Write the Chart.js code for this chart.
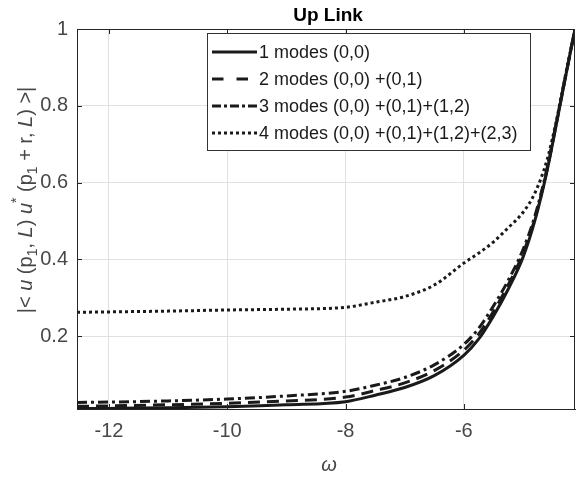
<!DOCTYPE html>
<html>
<head>
<meta charset="utf-8">
<script src="https://cdn.jsdelivr.net/npm/chart.js@4.4.1/dist/chart.umd.min.js"></script>
<style>
  html, body { margin: 0; padding: 0; background: #ffffff; }
  #wrap { width: 576px; height: 477px; }
</style>
</head>
<body>
<div id="wrap"><canvas id="c" width="576" height="477"></canvas></div>
<script>
// ---- data ----
const omega   = [-12.54, -12, -11, -10, -9, -8, -7.5, -7, -6.5, -6, -5.75, -5.5, -5.25, -5, -4.8, -4.6, -4.45, -4.3, -4.12];
const modes1  = [0.011, 0.0115, 0.013, 0.016, 0.021, 0.029, 0.046, 0.066, 0.097, 0.150, 0.192, 0.252, 0.322, 0.405, 0.50, 0.625, 0.74, 0.86, 1.0];
const modes2  = [0.017, 0.018, 0.021, 0.025, 0.031, 0.041, 0.058, 0.078, 0.110, 0.163, 0.205, 0.264, 0.333, 0.415, 0.505, 0.628, 0.742, 0.86, 1.0];
const modes3  = [0.027, 0.028, 0.031, 0.036, 0.044, 0.056, 0.072, 0.092, 0.125, 0.178, 0.220, 0.278, 0.345, 0.425, 0.512, 0.632, 0.745, 0.862, 1.0];
const modes4  = [0.262, 0.263, 0.265, 0.268, 0.270, 0.275, 0.288, 0.303, 0.333, 0.390, 0.416, 0.445, 0.482, 0.522, 0.572, 0.655, 0.75, 0.865, 1.0];
const seriesNames = ['1 modes (0,0)', '2 modes (0,0) +(0,1)', '3 modes (0,0) +(0,1)+(1,2)', '4 modes (0,0) +(0,1)+(1,2)+(2,3)'];
const xTicks = [-12, -10, -8, -6];
const yTicks = [0.2, 0.4, 0.6, 0.8, 1];
const titleText = 'Up Link';
const xLabel = 'ω';

// ---- styling ----
const lineColor = '#1a1a1a';
const axisColor = '#262626';
const tickColor = '#474747';
const gridColor = '#e0e0e0';
const fontFam = '"Liberation Sans", Arial, Helvetica, sans-serif';
const plotDash   = [[], [12, 7], [10, 4, 3, 4], [3, 3]];
const legendDash = [[], [11.5, 13], [9, 3, 3, 3], [3, 3]];

const allSeries = [modes1, modes2, modes3, modes4];
const datasets = allSeries.map((vals, i) => ({
  label: seriesNames[i],
  data: omega.map((x, k) => ({ x: x, y: vals[k] })),
  borderColor: lineColor,
  backgroundColor: lineColor,
  borderWidth: 3,
  borderDash: plotDash[i],
  borderCapStyle: 'butt',
  pointRadius: 0,
  showLine: true,
  fill: false,
  cubicInterpolationMode: 'monotone'
}));

const decorPlugin = {
  id: 'decor',
  afterDraw(chart) {
    const ctx = chart.ctx;
    const a = chart.chartArea;
    const xs = chart.scales.x, ys = chart.scales.y;
    ctx.save();
    // box top / right lines
    ctx.strokeStyle = axisColor;
    ctx.lineWidth = 1;
    ctx.beginPath();
    ctx.moveTo(a.left, a.top + 0.5); ctx.lineTo(a.right, a.top + 0.5);
    ctx.moveTo(a.right - 0.5, a.top); ctx.lineTo(a.right - 0.5, a.bottom);
    ctx.stroke();
    // inward ticks
    ctx.beginPath();
    xTicks.forEach(v => {
      const px = Math.round(xs.getPixelForValue(v)) + 0.5;
      ctx.moveTo(px, a.bottom); ctx.lineTo(px, a.bottom - 5);
      ctx.moveTo(px, a.top); ctx.lineTo(px, a.top + 5);
    });
    yTicks.forEach(v => {
      const py = Math.round(ys.getPixelForValue(v)) + 0.5;
      ctx.moveTo(a.left, py); ctx.lineTo(a.left + 5, py);
      ctx.moveTo(a.right, py); ctx.lineTo(a.right - 5, py);
    });
    ctx.stroke();

    // title
    ctx.fillStyle = '#000000';
    ctx.font = 'bold 19px ' + fontFam;
    ctx.textAlign = 'center';
    ctx.textBaseline = 'alphabetic';
    ctx.fillText(titleText, (a.left + a.right) / 2 + 2, 21);

    // x label
    ctx.fillStyle = tickColor;
    ctx.font = 'italic 20px ' + fontFam;
    ctx.fillText(xLabel, (a.left + a.right) / 2 + 3, 471);

    // y label with italics / sub / superscripts
    const base = 20;
    const segs = [
      ['|< ', 'n'], ['u', 'i'], [' (p', 'n'], ['1', 'sub'], [', ', 'n'], ['L', 'i'], [') ', 'n'],
      ['u', 'i'], ['*', 'sup'], [' (p', 'n'], ['1', 'sub'], [' + r, ', 'n'], ['L', 'i'], [') >|', 'n']
    ];
    const fontFor = s => (s === 'i' ? 'italic ' + base + 'px ' : (s === 'n' ? base + 'px ' : Math.round(base * 0.72) + 'px ')) + fontFam;
    let total = 0;
    segs.forEach(([t, s]) => { ctx.font = fontFor(s); total += ctx.measureText(t).width; });
    ctx.translate(32, 200);
    ctx.rotate(-Math.PI / 2);
    ctx.textAlign = 'left';
    let cx = -total / 2;
    segs.forEach(([t, s]) => {
      ctx.font = fontFor(s);
      const dy = s === 'sub' ? 5 : (s === 'sup' ? -11 : 0);
      ctx.fillText(t, cx, dy);
      cx += ctx.measureText(t).width;
    });
    ctx.restore();

    // legend box
    ctx.save();
    const lx = 207, ly = 33, lw = 323, lh = 117;
    ctx.fillStyle = '#ffffff';
    ctx.fillRect(lx, ly, lw, lh);
    ctx.strokeStyle = '#333333';
    ctx.lineWidth = 1;
    ctx.strokeRect(lx + 0.5, ly + 0.5, lw, lh);
    const rowY = [52, 79, 106, 133];
    seriesNames.forEach((name, i) => {
      ctx.strokeStyle = lineColor;
      ctx.lineWidth = 3;
      ctx.lineCap = 'butt';
      ctx.setLineDash(legendDash[i]);
      ctx.beginPath();
      ctx.moveTo(212, rowY[i]); ctx.lineTo(257, rowY[i]);
      ctx.stroke();
      ctx.setLineDash([]);
      ctx.fillStyle = '#1a1a1a';
      ctx.font = '18px ' + fontFam;
      ctx.textAlign = 'left';
      ctx.textBaseline = 'middle';
      ctx.fillText(name, 259, rowY[i] + 1);
    });
    ctx.restore();
  }
};

new Chart(document.getElementById('c'), {
  type: 'scatter',
  data: { datasets: datasets },
  plugins: [decorPlugin],
  options: {
    responsive: false,
    animation: false,
    devicePixelRatio: 1,
    layout: { padding: { top: 29, right: 1, left: 0, bottom: 0 } },
    plugins: { legend: { display: false }, title: { display: false }, tooltip: { enabled: false } },
    scales: {
      x: {
        type: 'linear',
        min: -12.54, max: -4.12,
        afterBuildTicks: s => { s.ticks = xTicks.map(v => ({ value: v })); },
        afterFit: s => { s.height = 68; },
        grid: { color: gridColor, lineWidth: 1, drawTicks: false },
        border: { display: true, color: axisColor, width: 1 },
        ticks: { color: tickColor, font: { family: fontFam, size: 20 }, padding: 10, maxRotation: 0, callback: v => String(v) }
      },
      y: {
        type: 'linear',
        min: 0.01, max: 1,
        afterBuildTicks: s => { s.ticks = yTicks.map(v => ({ value: v })); },
        afterFit: s => { s.width = 77; },
        grid: { color: gridColor, lineWidth: 1, drawTicks: false },
        border: { display: true, color: axisColor, width: 1 },
        ticks: { color: tickColor, font: { family: fontFam, size: 20 }, padding: 9, callback: v => String(v) }
      }
    }
  }
});
</script>
</body>
</html>
